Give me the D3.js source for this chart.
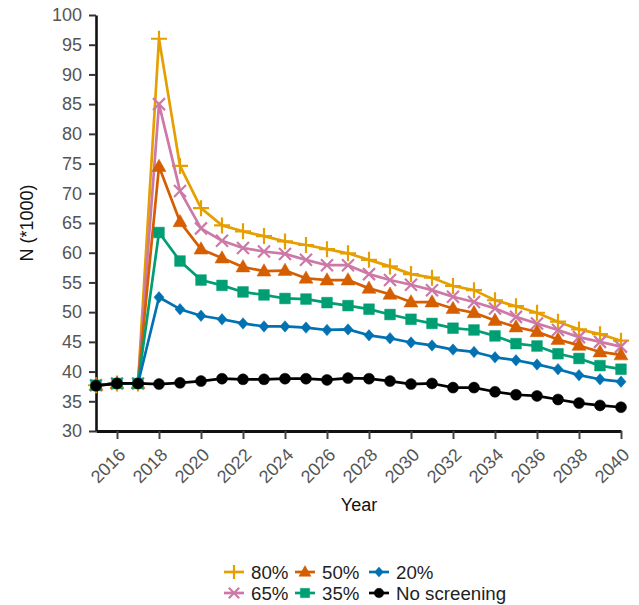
<!DOCTYPE html>
<html>
<head>
<meta charset="utf-8">
<script src="https://cdn.jsdelivr.net/npm/d3@7"></script>
<style>
  body { margin: 0; background: #fff; }
  svg { font-family: "Liberation Sans", Arial, sans-serif; }
</style>
</head>
<body>
<svg id="chart" width="639" height="605"></svg>
<script>
const years = [2015, 2016, 2017, 2018, 2019, 2020, 2021, 2022, 2023, 2024, 2025, 2026, 2027,
  2028, 2029, 2030, 2031, 2032, 2033, 2034, 2035, 2036, 2037, 2038, 2039, 2040];
const yTicks = [30, 35, 40, 45, 50, 55, 60, 65, 70, 75, 80, 85, 90, 95, 100];
const xTicks = [2016, 2018, 2020, 2022, 2024, 2026, 2028, 2030, 2032, 2034, 2036, 2038, 2040];

const s80 = [37.7, 38.0, 38.0, 96.0, 74.6, 67.5, 64.6, 63.6, 62.8, 61.9, 61.3, 60.6, 59.9, 58.8, 57.7, 56.4, 55.8, 54.4, 53.7, 52.0, 51.0, 49.9, 48.4, 47.1, 46.3, 45.2];
const s65 = [37.7, 38.0, 38.0, 85.0, 70.4, 64.1, 62.0, 60.8, 60.2, 59.8, 58.8, 57.9, 57.9, 56.4, 55.4, 54.6, 53.7, 52.6, 51.7, 50.6, 49.2, 48.1, 47.0, 45.8, 45.0, 44.2];
const s50 = [37.7, 38.0, 38.0, 74.5, 65.2, 60.6, 59.1, 57.6, 56.9, 57.0, 55.7, 55.4, 55.4, 54.0, 53.0, 51.7, 51.7, 50.6, 49.9, 48.6, 47.5, 46.7, 45.4, 44.4, 43.3, 42.8];
const s35 = [37.7, 38.0, 38.0, 63.4, 58.6, 55.4, 54.5, 53.4, 52.9, 52.3, 52.2, 51.6, 51.1, 50.5, 49.6, 48.8, 48.1, 47.3, 47.0, 46.0, 44.7, 44.3, 43.0, 42.2, 41.0, 40.4];
const s20 = [37.7, 38.0, 38.0, 52.5, 50.5, 49.4, 48.8, 48.1, 47.6, 47.6, 47.4, 47.0, 47.1, 46.1, 45.6, 44.9, 44.4, 43.7, 43.3, 42.4, 41.9, 41.2, 40.4, 39.4, 38.7, 38.3];
const s0 = [37.6, 38.0, 38.0, 37.9, 38.1, 38.4, 38.8, 38.7, 38.7, 38.8, 38.8, 38.6, 38.9, 38.8, 38.4, 37.9, 38.0, 37.3, 37.3, 36.6, 36.1, 35.9, 35.3, 34.7, 34.3, 34.0];

// custom marker shapes for d3.symbol
const plusSym = { draw(c, size) { const r = Math.sqrt(size) / 2; c.moveTo(-r, 0); c.lineTo(r, 0); c.moveTo(0, -r); c.lineTo(0, r); } };
const timesSym = { draw(c, size) { const r = Math.sqrt(size) / 2; c.moveTo(-r, -r); c.lineTo(r, r); c.moveTo(-r, r); c.lineTo(r, -r); } };
const triSym = { draw(c, size) { const w = Math.sqrt(size); const h = w * 0.88; c.moveTo(0, -h * 0.6); c.lineTo(w / 2, h * 0.4); c.lineTo(-w / 2, h * 0.4); c.closePath(); } };
const diaSym = { draw(c, size) { const w = Math.sqrt(size) / 2; const h = w * 1.15; c.moveTo(0, -h); c.lineTo(w, 0); c.lineTo(0, h); c.lineTo(-w, 0); c.closePath(); } };
const sqSym = { draw(c, size) { const w = Math.sqrt(size) / 2; c.rect(-w, -w, w * 2, w * 2); } };
const cirSym = { draw(c, size) { const r = Math.sqrt(size) / 2; c.moveTo(r, 0); c.arc(0, 0, r, 0, 2 * Math.PI); } };

const series = [
  { name: '80%', values: s80, color: '#E69F00', sym: plusSym, size: 256, fill: false },
  { name: '65%', values: s65, color: '#CC79A7', sym: timesSym, size: 144, fill: false },
  { name: '50%', values: s50, color: '#D55E00', sym: triSym, size: 196, fill: true },
  { name: '35%', values: s35, color: '#009E73', sym: sqSym, size: 115, fill: true },
  { name: '20%', values: s20, color: '#0072B2', sym: diaSym, size: 100, fill: true },
  { name: 'No screening', values: s0, color: '#000000', sym: cirSym, size: 121, fill: true }
];

const svg = d3.select('#chart');
const x = d3.scaleLinear().domain([2015, 2040]).range([96, 621]);
const y = d3.scaleLinear().domain([30, 100]).range([431, 15]);

// y axis
svg.append('g')
  .attr('transform', 'translate(96,0)')
  .call(d3.axisLeft(y).tickValues(yTicks).tickSize(7).tickPadding(7).tickSizeOuter(0))
  .call(g => g.select('.domain').attr('stroke', '#111').attr('stroke-width', 2.6))
  .call(g => g.selectAll('.tick line').attr('stroke', '#333').attr('stroke-width', 2))
  .call(g => g.selectAll('.tick text').attr('fill', '#555').attr('font-size', 18).attr('font-family', 'Liberation Sans, Arial, sans-serif'));

// x axis
svg.append('g')
  .attr('transform', 'translate(0,431)')
  .call(d3.axisBottom(x).tickValues(xTicks).tickSize(8).tickSizeOuter(0).tickFormat(d3.format('d')))
  .call(g => g.select('.domain').attr('stroke', '#111').attr('stroke-width', 2.8))
  .call(g => g.selectAll('.tick line').attr('stroke', '#444').attr('stroke-width', 2))
  .call(g => g.selectAll('.tick text')
    .attr('fill', '#555').attr('font-size', 18).attr('font-family', 'Liberation Sans, Arial, sans-serif')
    .attr('text-anchor', 'end').attr('dy', null).attr('y', null)
    .attr('transform', 'translate(9,25) rotate(-45)'));

svg.append('text')
  .attr('x', 359).attr('y', 511)
  .attr('text-anchor', 'middle').attr('font-size', 18).attr('fill', '#111')
  .text('Year');

svg.append('text')
  .attr('transform', 'translate(33,223) rotate(-90)')
  .attr('text-anchor', 'middle').attr('font-size', 18).attr('fill', '#111')
  .text('N (*1000)');

const line = d3.line().x((d, i) => x(years[i])).y(d => y(d));

series.forEach(s => {
  const g = svg.append('g');
  g.append('path')
    .attr('d', line(s.values))
    .attr('fill', 'none')
    .attr('stroke', s.color)
    .attr('stroke-width', 2.7)
    .attr('stroke-linejoin', 'round');
  g.selectAll('path.m')
    .data(s.values)
    .join('path')
    .attr('class', 'm')
    .attr('transform', (d, i) => `translate(${x(years[i])},${y(d)})`)
    .attr('d', d3.symbol().type(s.sym).size(s.size))
    .attr('fill', s.fill ? s.color : 'none')
    .attr('stroke', s.color)
    .attr('stroke-width', s.fill ? 0.5 : 2.2);
});

// legend
const legPos = [[234, 572], [234, 593], [305, 572], [305, 593], [379, 572], [379, 593]];
series.forEach((s, i) => {
  const [cx, cy] = legPos[i];
  const g = svg.append('g').attr('transform', `translate(${cx},${cy})`);
  g.append('line').attr('x1', -10).attr('x2', 10).attr('stroke', s.color).attr('stroke-width', 2.7);
  g.append('path')
    .attr('d', d3.symbol().type(s.sym).size(s.size * 0.75))
    .attr('fill', s.fill ? s.color : 'none')
    .attr('stroke', s.color)
    .attr('stroke-width', s.fill ? 0.5 : 2.2);
  g.append('text')
    .attr('x', 17).attr('y', 6.5)
    .attr('font-size', 18.7).attr('fill', '#222')
    .text(s.name);
});
</script>
</body>
</html>
